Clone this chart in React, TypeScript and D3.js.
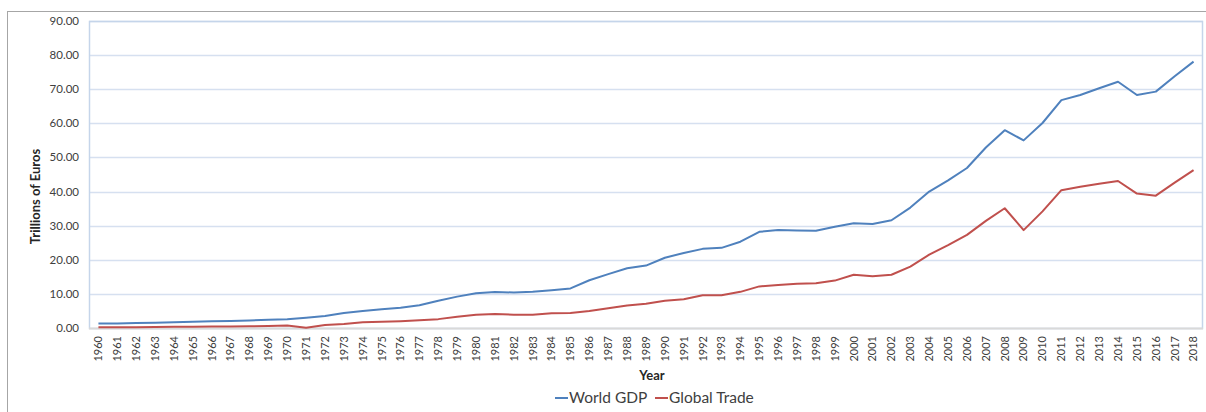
// World GDP vs Global Trade line chart (Excel-style)
import React, { useRef, useEffect } from 'react';
import * as d3 from 'd3';

const YEARS = d3.range(1960, 2019).map(String);

const WORLD_GDP = [
  1.3, 1.35, 1.45, 1.55, 1.65, 1.85, 1.95, 2.05, 2.2, 2.4,
  2.6, 3.0, 3.5, 4.4, 5.0, 5.5, 5.95, 6.65, 8.0, 9.2,
  10.2, 10.55, 10.4, 10.65, 11.1, 11.6, 14.0, 15.8, 17.5, 18.3,
  20.6, 22.0, 23.2, 23.5, 25.3, 28.2, 28.7, 28.6, 28.5, 29.7,
  30.7, 30.5, 31.6, 35.3, 40.0, 43.3, 46.9, 52.9, 58.0, 55.0,
  60.1, 66.8, 68.3, 70.3, 72.2, 68.3, 69.3, 73.8, 78.1,
];

const GLOBAL_TRADE = [
  0.2, 0.2, 0.25, 0.3, 0.35, 0.4, 0.45, 0.45, 0.5, 0.6,
  0.7, 0.1, 0.9, 1.2, 1.7, 1.8, 2.0, 2.25, 2.6, 3.3,
  3.9, 4.1, 3.9, 3.9, 4.3, 4.4, 5.0, 5.8, 6.6, 7.1,
  8.0, 8.4, 9.6, 9.6, 10.6, 12.2, 12.6, 13.0, 13.1, 13.9,
  15.6, 15.2, 15.6, 18.0, 21.5, 24.3, 27.3, 31.4, 35.1, 28.7,
  34.2, 40.4, 41.4, 42.3, 43.1, 39.4, 38.8, 42.6, 46.3,
];

const Y_TICKS = [0, 10, 20, 30, 40, 50, 60, 70, 80, 90];

const SERIES = [
  { name: 'World GDP', values: WORLD_GDP, color: '#4f81bd' },
  { name: 'Global Trade', values: GLOBAL_TRADE, color: '#c0504d' },
];

const W = 1206;
const H = 412;
const FONT = 'Lato, "Open Sans", sans-serif';

export default function App() {
  const svgRef = useRef<SVGSVGElement>(null);

  useEffect(() => {
    if (!svgRef.current) return;
    const svg = d3.select(svgRef.current);
    svg.selectAll('*').remove();

    const margin = { top: 21, right: 3, bottom: 84, left: 89 };
    const width = W - margin.left - margin.right;
    const height = H - margin.top - margin.bottom;

    // outer chart frame (cut off on right / bottom)
    svg.append('rect')
      .attr('x', 7.5).attr('y', 11.5)
      .attr('width', W).attr('height', H)
      .attr('fill', '#fff')
      .attr('stroke', '#a6a6a6');

    const g = svg.append('g').attr('transform', `translate(${margin.left},${margin.top})`);

    const x = d3.scaleBand().domain(YEARS).range([0, width]);
    const y = d3.scaleLinear().domain([0, 90]).range([height, 0]);

    // gridlines
    g.append('g')
      .selectAll('line')
      .data(Y_TICKS.slice(1))
      .join('line')
      .attr('x1', 0).attr('x2', width)
      .attr('y1', d => Math.round(y(d)) + 0.5)
      .attr('y2', d => Math.round(y(d)) + 0.5)
      .attr('stroke', '#d6e0f0')
      .attr('stroke-width', 1.5);

    // plot area border
    g.append('rect')
      .attr('x', 0.5).attr('y', 0.5)
      .attr('width', width - 1).attr('height', height)
      .attr('fill', 'none')
      .attr('stroke', '#c5d5ea')
      .attr('stroke-width', 1.5);

    // bottom axis line
    g.append('line')
      .attr('x1', 0).attr('x2', width)
      .attr('y1', height + 0.5).attr('y2', height + 0.5)
      .attr('stroke', '#d9d9d9')
      .attr('stroke-width', 2);

    // y tick labels
    g.append('g')
      .selectAll('text')
      .data(Y_TICKS)
      .join('text')
      .attr('x', -10)
      .attr('y', d => y(d))
      .attr('dy', '0.35em')
      .attr('text-anchor', 'end')
      .attr('fill', '#404040')
      .style('font-family', FONT)
      .style('font-size', '11.5px')
      .text(d => d3.format('.2f')(d));

    // x tick labels (rotated)
    g.append('g')
      .selectAll('text')
      .data(YEARS)
      .join('text')
      .attr('transform', d => `translate(${x(d)! + x.bandwidth() / 2},${height + 8}) rotate(-90)`)
      .attr('text-anchor', 'end')
      .attr('dy', '0.35em')
      .attr('fill', '#404040')
      .style('font-family', FONT)
      .style('font-size', '11px')
      .text(d => d);

    // lines
    const line = d3.line<number>()
      .x((_, i) => x(YEARS[i])! + x.bandwidth() / 2)
      .y(d => y(d));

    SERIES.forEach(s => {
      g.append('path')
        .datum(s.values)
        .attr('d', line)
        .attr('fill', 'none')
        .attr('stroke', s.color)
        .attr('stroke-width', 2)
        .attr('stroke-linejoin', 'round');
    });

    // axis titles
    svg.append('text')
      .attr('x', margin.left + width / 2 + 6)
      .attr('y', 375)
      .attr('dy', '0.35em')
      .attr('text-anchor', 'middle')
      .attr('fill', '#262626')
      .style('font-family', FONT)
      .style('font-size', '13px')
      .style('font-weight', '700')
      .text('Year');

    svg.append('text')
      .attr('transform', `translate(35,${margin.top + height / 2 + 22}) rotate(-90)`)
      .attr('dy', '0.35em')
      .attr('text-anchor', 'middle')
      .attr('fill', '#262626')
      .style('font-family', FONT)
      .style('font-size', '13px')
      .style('font-weight', '700')
      .text('Trillions of Euros');

    // legend
    const legendX = [555, 655];
    SERIES.forEach((s, i) => {
      const lg = svg.append('g').attr('transform', `translate(${legendX[i]},398)`);
      lg.append('line')
        .attr('x1', 0).attr('x2', 13)
        .attr('stroke', s.color)
        .attr('stroke-width', 2);
      lg.append('text')
        .attr('x', 14)
        .attr('dy', '0.35em')
        .attr('fill', '#404040')
        .style('font-family', FONT)
        .style('font-size', '15.5px')
        .text(s.name);
    });
  }, []);

  return (
    <div style={{ position: 'absolute', left: 0, top: 0, width: W, height: H, background: '#fff' }}>
      <svg ref={svgRef} width={W} height={H} style={{ display: 'block' }} />
    </div>
  );
}
